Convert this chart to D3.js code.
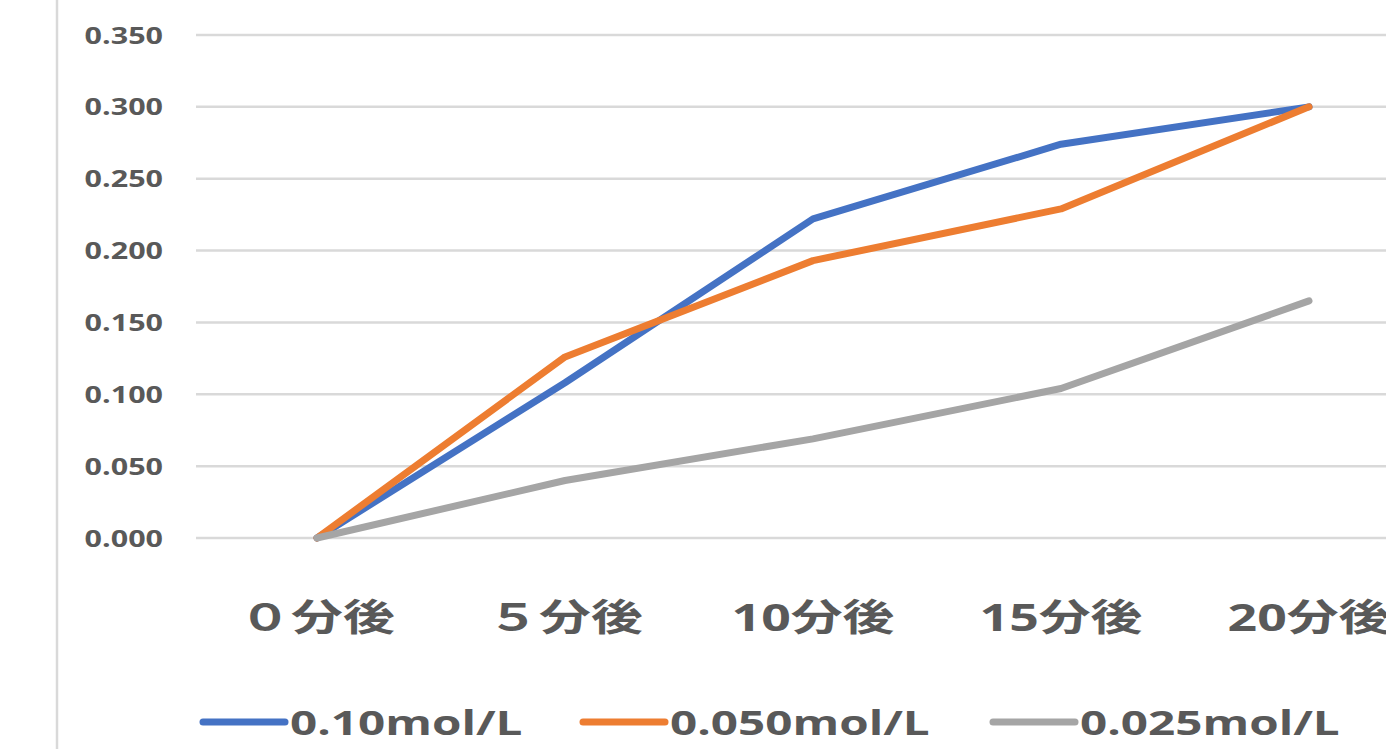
<!DOCTYPE html>
<html>
<head>
<meta charset="utf-8">
<script src="https://cdn.jsdelivr.net/npm/d3@7"></script>
<style>
  html, body { margin: 0; padding: 0; background: #ffffff; }
  svg { display: block; }
  text { font-family: "Open Sans", "Noto Sans CJK JP", sans-serif; font-weight: 700; fill: #595959; }
</style>
</head>
<body>
<svg id="chart" width="1386" height="749"></svg>
<script>
// Elapsed time categories
const categories = ["０分後", "５分後", "10分後", "15分後", "20分後"];

// Series names and values (one value per category)
const seriesNames = ["0.10mol/L", "0.050mol/L", "0.025mol/L"];
const series010 = [0.000, 0.108, 0.222, 0.274, 0.300];
const series050 = [0.000, 0.126, 0.193, 0.229, 0.300];
const series025 = [0.000, 0.040, 0.069, 0.104, 0.165];

// Y axis ticks
const yTicks = [0, 0.05, 0.10, 0.15, 0.20, 0.25, 0.30, 0.35];

const colors = ["#4472C4", "#ED7D31", "#A5A5A5"];
const seriesData = [series010, series050, series025];

const W = 1386, H = 749;
const sx = 1.4; // horizontal stretch applied to text

const svg = d3.select("#chart");

// Outer chart frame (left edge visible)
svg.append("line")
  .attr("x1", 57).attr("x2", 57)
  .attr("y1", 0).attr("y2", H)
  .attr("stroke", "#d9d9d9").attr("stroke-width", 2.5);

const x = d3.scaleBand().domain(categories).range([193, 1433]);
const y = d3.scaleLinear().domain([0, 0.35]).range([538, 35]);

// Horizontal gridlines
svg.append("g").selectAll("line")
  .data(yTicks).join("line")
  .attr("x1", 196).attr("x2", W)
  .attr("y1", d => y(d)).attr("y2", d => y(d))
  .attr("stroke", "#d9d9d9").attr("stroke-width", 2.5);

// Y tick labels
svg.append("g").selectAll("g")
  .data(yTicks).join("g")
  .attr("transform", d => `translate(163,${y(d) + 8.5}) scale(1.27,1)`)
  .append("text")
  .attr("text-anchor", "end")
  .attr("font-size", 24)
  .text(d => d3.format(".3f")(d));

// Category labels
svg.append("g").selectAll("g")
  .data(categories).join("g")
  .attr("transform", d => `translate(${x(d) + x.bandwidth() / 2},631) scale(${sx},1)`)
  .append("text")
  .attr("text-anchor", "middle")
  .attr("font-size", 37)
  .text(d => d);

// Lines
const line = d3.line()
  .x((d, i) => x(categories[i]) + x.bandwidth() / 2)
  .y(d => y(d));

svg.append("g").selectAll("path")
  .data(seriesData).join("path")
  .attr("d", d => line(d))
  .attr("fill", "none")
  .attr("stroke", (d, i) => colors[i])
  .attr("stroke-width", 7)
  .attr("stroke-linejoin", "round")
  .attr("stroke-linecap", "round");

// Legend
const legendX = [203, 583, 993];
const legend = svg.append("g").selectAll("g")
  .data(seriesNames).join("g")
  .attr("transform", (d, i) => `translate(${legendX[i]},722)`);

legend.append("line")
  .attr("x1", 0).attr("x2", 82)
  .attr("y1", 0).attr("y2", 0)
  .attr("stroke", (d, i) => colors[i])
  .attr("stroke-width", 7)
  .attr("stroke-linecap", "round");

legend.append("g")
  .attr("transform", `translate(87,13) scale(${sx},1)`)
  .append("text")
  .attr("font-size", 34)
  .text(d => d);
</script>
</body>
</html>
